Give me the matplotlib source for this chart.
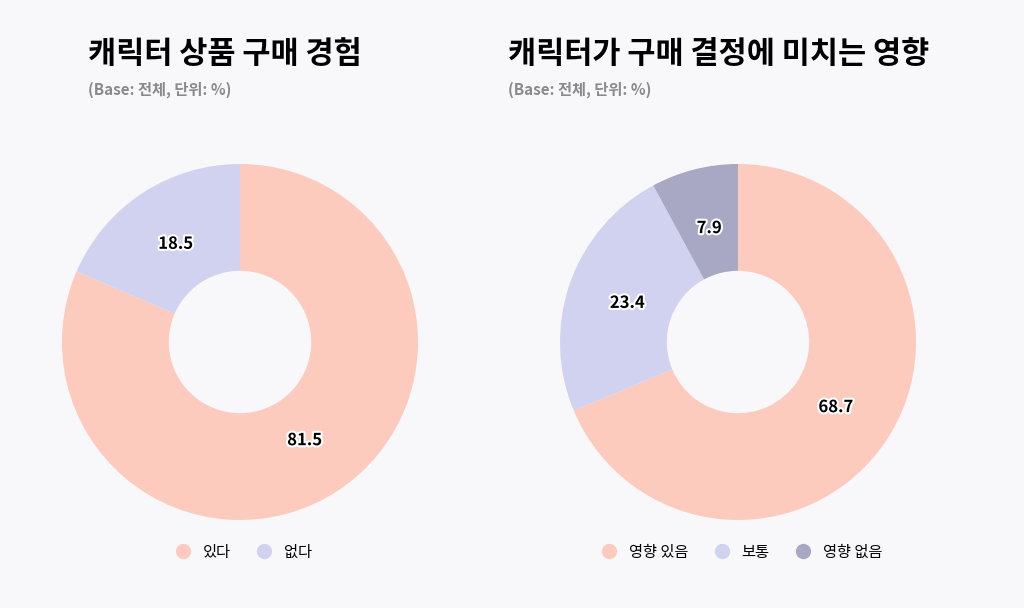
import matplotlib.pyplot as plt
import matplotlib.patheffects as pe
from matplotlib.lines import Line2D
import numpy as np

plt.rcParams['font.family'] = ['Noto Sans CJK JP', 'Noto Sans CJK KR', 'Noto Sans CJK SC', 'DejaVu Sans']

title1 = '캐릭터 상품 구매 경험'
labels1 = ['있다', '없다']
values1 = [81.5, 18.5]

title2 = '캐릭터가 구매 결정에 미치는 영향'
labels2 = ['영향 있음', '보통', '영향 없음']
values2 = [68.7, 23.4, 7.9]

subtitle = '(Base: 전체, 단위: %)'
colors = ['#fdcbbd', '#d0d2f0', '#a9a8c4']
bg = '#f8f7fa'

fig = plt.figure(figsize=(10.24, 6.08), dpi=100, facecolor=bg)


def donut(cx, title, tx, labels, values):
    w = 356 / 1024
    h = 356 / 608
    ax = fig.add_axes([cx - w / 2, 0.4375 - h / 2, w, h])
    ax.set_facecolor(bg)
    wedges, _ = ax.pie(values, colors=colors[:len(values)], startangle=90,
                       counterclock=False, radius=1,
                       wedgeprops=dict(width=0.6, edgecolor='none'))
    for wdg, v in zip(wedges, values):
        ang = np.deg2rad((wdg.theta1 + wdg.theta2) / 2)
        ax.text(0.66 * np.cos(ang), 0.66 * np.sin(ang), f'{v}', ha='center', va='center',
                fontsize=12, fontweight='bold', color='black',
                path_effects=[pe.withStroke(linewidth=3, foreground='white')])
    ax.set_xlim(-1, 1)
    ax.set_ylim(-1, 1)
    ax.set_aspect('equal')
    ax.axis('off')
    fig.text(tx, 1 - 54 / 608, title, fontsize=22, fontweight='bold', va='center')
    fig.text(tx, 1 - 90 / 608, subtitle, fontsize=11, fontweight='bold', color='#8a8a8a', va='center')
    handles = [Line2D([], [], marker='o', linestyle='none', markersize=11,
                      markerfacecolor=colors[i], markeredgecolor='none') for i in range(len(labels))]
    fig.legend(handles, labels, loc='center', bbox_to_anchor=(cx, 1 - 552 / 608), ncol=len(labels),
               frameon=False, fontsize=11, handletextpad=0.3, columnspacing=1.2)


donut(240 / 1024, title1, 88 / 1024, labels1, values1)
donut(738 / 1024, title2, 508 / 1024, labels2, values2)

fig.savefig('out.png', facecolor=bg)
